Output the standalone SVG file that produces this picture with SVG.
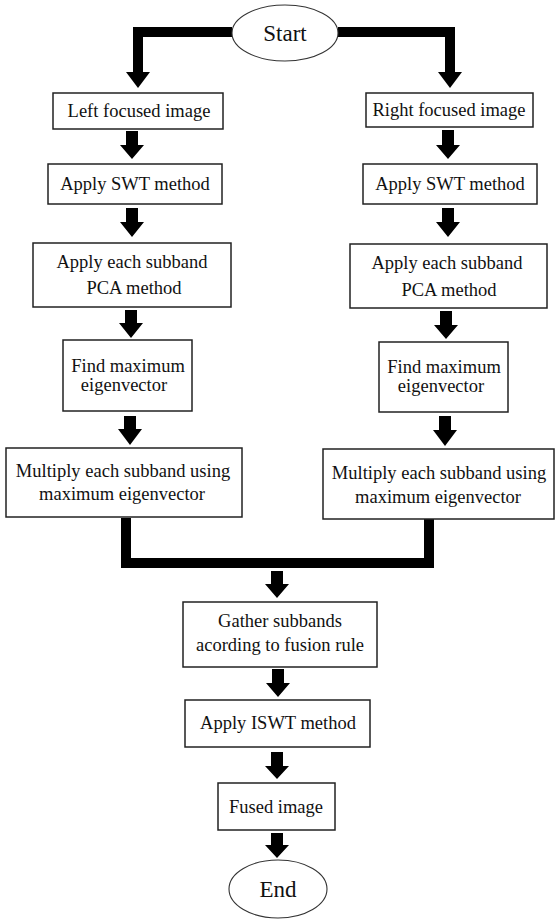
<svg xmlns="http://www.w3.org/2000/svg" width="555" height="920" viewBox="0 0 555 920">
<style>
.box{fill:#fff;stroke:#222;stroke-width:1.5}
.oval{fill:#fff;stroke:#333;stroke-width:1.1}
.t{font-family:"Liberation Serif","Times New Roman",serif;font-size:18.5px;fill:#111;text-anchor:middle}
.tb{font-family:"Liberation Serif","Times New Roman",serif;font-size:23px;fill:#111;text-anchor:middle}
.bar{fill:none;stroke:#000;stroke-width:10;stroke-linejoin:miter}
.arw{fill:#000}
</style>
<rect width="555" height="920" fill="#fff"/>
<g id="connectors">
<path class="bar" d="M232 32 H138 V73"/>
<path class="arw" d="M126 72 H150 L138 88 Z"/>
<path class="bar" d="M338 32 H450 V73"/>
<path class="arw" d="M438 72 H462 L450 88 Z"/>
<path class="arw" d="M126 131 H138 V145 H144 L132 159 L120 145 H126 Z"/>
<path class="arw" d="M126 208 H138 V222 H144 L132 237 L120 222 H126 Z"/>
<path class="arw" d="M125 310 H137 V323 H143 L131 338 L119 323 H125 Z"/>
<path class="arw" d="M124 416 H136 V429 H142 L130 445 L118 429 H124 Z"/>
<path class="arw" d="M442 130 H454 V145 H460 L448 159 L436 145 H442 Z"/>
<path class="arw" d="M442 208 H454 V222 H460 L448 237 L436 222 H442 Z"/>
<path class="arw" d="M440 311 H452 V325 H458 L446 339 L434 325 H440 Z"/>
<path class="arw" d="M439 416 H451 V430 H457 L445 446 L433 430 H439 Z"/>
<path class="bar" d="M126 518 V563 H429 V519"/>
<path class="arw" d="M271 571 H283 V584 H289 L277 598 L265 584 H271 Z"/>
<path class="arw" d="M272 669 H284 V683 H290 L278 697 L266 683 H272 Z"/>
<path class="arw" d="M271 752 H283 V766 H289 L277 779 L265 766 H271 Z"/>
<path class="arw" d="M271 833 H283 V845 H289 L277 858 L265 845 H271 Z"/>
</g>
<g id="start"><ellipse class="oval" cx="285" cy="33" rx="53" ry="28"/><text class="tb" x="285" y="41">Start</text></g>
<g id="left-focused"><rect class="box" x="53" y="93" width="170" height="36"/><text class="t" x="139" y="117">Left focused image</text></g>
<g id="right-focused"><rect class="box" x="366" y="93" width="167" height="34"/><text class="t" x="449" y="116">Right focused image</text></g>
<g id="left-swt"><rect class="box" x="48" y="164" width="174" height="40"/><text class="t" x="135" y="190">Apply SWT method</text></g>
<g id="right-swt"><rect class="box" x="363" y="164" width="174" height="40"/><text class="t" x="450" y="190">Apply SWT method</text></g>
<g id="left-pca"><rect class="box" x="33" y="243" width="198" height="64"/><text class="t" x="132" y="268">Apply each subband</text><text class="t" x="134" y="294">PCA method</text></g>
<g id="right-pca"><rect class="box" x="350" y="244" width="197" height="64"/><text class="t" x="447" y="269">Apply each subband</text><text class="t" x="449" y="296">PCA method</text></g>
<g id="left-find"><rect class="box" x="63" y="340" width="129" height="71"/><text class="t" x="128" y="372">Find maximum</text><text class="t" x="124" y="391">eigenvector</text></g>
<g id="right-find"><rect class="box" x="379" y="342" width="129" height="70"/><text class="t" x="444" y="373">Find maximum</text><text class="t" x="441" y="392">eigenvector</text></g>
<g id="left-multiply"><rect class="box" x="6" y="448" width="236" height="69"/><text class="t" x="123" y="477">Multiply each subband using</text><text class="t" x="122" y="500">maximum eigenvector</text></g>
<g id="right-multiply"><rect class="box" x="323" y="449" width="231" height="70"/><text class="t" x="439" y="479">Multiply each subband using</text><text class="t" x="438" y="503">maximum eigenvector</text></g>
<g id="gather"><rect class="box" x="183" y="602" width="194" height="65"/><text class="t" x="280" y="627">Gather subbands</text><text class="t" x="280" y="651">acording to fusion rule</text></g>
<g id="iswt"><rect class="box" x="185" y="700" width="185" height="47"/><text class="t" x="278" y="729">Apply ISWT method</text></g>
<g id="fused"><rect class="box" x="218" y="783" width="117" height="47"/><text class="t" x="276" y="813">Fused image</text></g>
<g id="end"><ellipse class="oval" cx="278" cy="889" rx="49" ry="29"/><text class="tb" x="278" y="897">End</text></g>
</svg>
